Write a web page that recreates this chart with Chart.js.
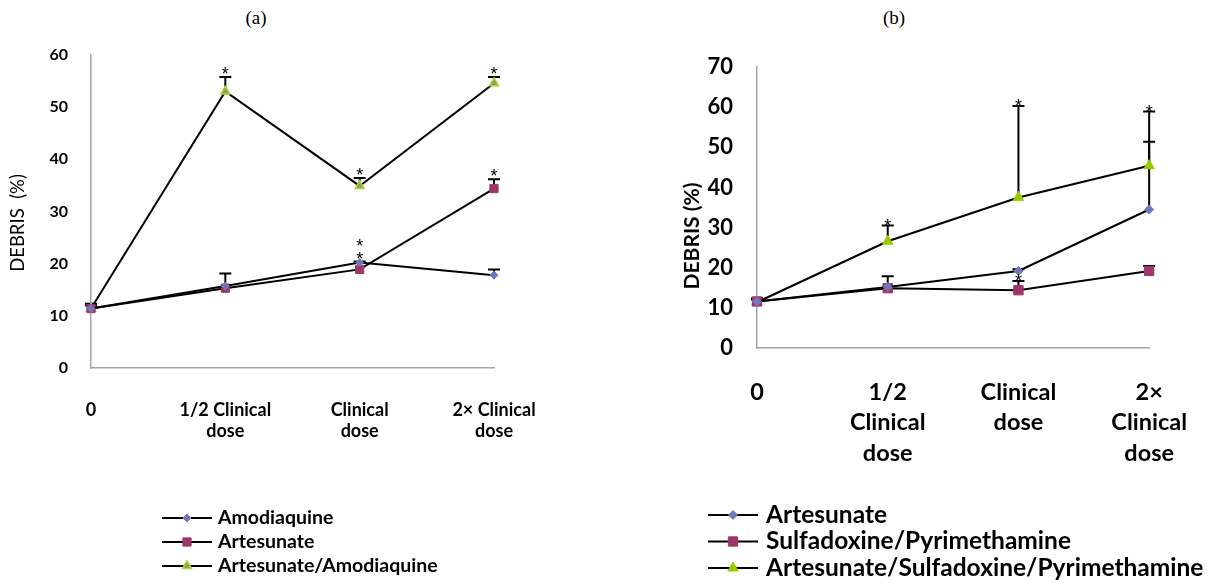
<!DOCTYPE html>
<html>
<head>
<meta charset="utf-8">
<script src="https://cdn.jsdelivr.net/npm/chart.js@4.4.1/dist/chart.umd.min.js"></script>
<style>
  body { margin: 0; background: #fff; width: 1216px; height: 583px; overflow: hidden; position: relative; }
  .panel { position: absolute; top: 0; height: 583px; }
  #wrapA { left: 0; width: 600px; }
  #wrapB { left: 600px; width: 616px; }
  .tag { position: absolute; top: 7px; font-family: 'Liberation Serif', serif; font-size: 19px; line-height: 22px; transform: translateX(-50%); }
</style>
</head>
<body>
<div class="tag" style="left:256px">(a)</div>
<div class="tag" style="left:894px">(b)</div>
<div class="panel" id="wrapA"><canvas id="chartA" width="600" height="583"></canvas></div>
<div class="panel" id="wrapB"><canvas id="chartB" width="616" height="583"></canvas></div>
<script>
// categories
const dosesA = [['0'], ['1/2 Clinical', 'dose'], ['Clinical', 'dose'], ['2× Clinical', 'dose']];
const dosesB = [['0'], ['1/2', 'Clinical', 'dose'], ['Clinical', 'dose'], ['2×', 'Clinical', 'dose']];

// (a) debris %
const amodiaquineA = [11.4, 15.7, 20.2, 17.8];
const artesunateA = [11.4, 15.3, 18.9, 34.4];
const artAmoA = [11.4, 53.0, 34.9, 54.6];
// upper error (SEM)
const amodiaquineErrA = [0.9, 2.4, 0.2, 1.1];
const artesunateErrA = [0.6, 0, 0, 1.8];
const artAmoErrA = [0, 2.8, 1.5, 1.2];
// significance marks
const amodiaquineStarA = [0, 0, 1, 0];
const artesunateStarA = [0, 0, 1, 1];
const artAmoStarA = [0, 1, 1, 1];

// (b) debris %
const artesunateB = [11.6, 15.2, 19.2, 34.5];
const sulfaPyrB = [11.6, 14.9, 14.4, 19.2];
const artSulfaPyrB = [11.4, 26.6, 37.5, 45.4];
const artesunateErrB = [0.8, 2.7, 0.4, 16.9];
const sulfaPyrErrB = [0.5, 0, 2.3, 1.2];
const artSulfaPyrErrB = [0, 3.9, 22.8, 13.5];
const artesunateStarB = [0, 0, 0, 0];
const sulfaPyrStarB = [0, 0, 1, 0];
const artSulfaPyrStarB = [0, 1, 1, 1];

const BLUE = '#7276b6', PLUM = '#9c3768', GREEN = '#99cc00';

function drawMarker(ctx, style, x, y, r, fill, stroke, bw) {
    ctx.beginPath();
    if (style === 'rect') {
        const s = r * Math.SQRT1_2;
        ctx.rect(x - s, y - s, 2 * s, 2 * s);
    } else if (style === 'rectRot') {
        ctx.moveTo(x, y - r); ctx.lineTo(x + r, y); ctx.lineTo(x, y + r); ctx.lineTo(x - r, y); ctx.closePath();
    } else {
        for (let k = 0; k < 3; k++) {
            const a = k * 2 * Math.PI / 3;
            const px = x + Math.sin(a) * r, py = y - Math.cos(a) * r;
            if (k === 0) ctx.moveTo(px, py); else ctx.lineTo(px, py);
        }
        ctx.closePath();
    }
    ctx.fillStyle = fill; ctx.fill();
    ctx.lineWidth = bw; ctx.strokeStyle = stroke; ctx.stroke();
}

// error bars (upper only) + asterisks
const errorBars = {
    id: 'errorBars',
    beforeDatasetsDraw(chart, args, opts) {
        const ctx = chart.ctx, ys = chart.scales.y;
        ctx.save();
        ctx.strokeStyle = '#000';
        ctx.lineWidth = 2;
        chart.data.datasets.forEach((ds, i) => {
            const meta = chart.getDatasetMeta(i);
            ds.errUp.forEach((e, j) => {
                if (!e) return;
                const p = meta.data[j];
                const top = ys.getPixelForValue(ds.data[j] + e);
                ctx.beginPath();
                ctx.moveTo(p.x, p.y); ctx.lineTo(p.x, top);
                ctx.moveTo(p.x - opts.cap, top); ctx.lineTo(p.x + opts.cap, top);
                ctx.stroke();
            });
        });
        ctx.restore();
    },
    afterDatasetsDraw(chart, args, opts) {
        const ctx = chart.ctx, ys = chart.scales.y;
        const used = {};
        ctx.save();
        ctx.fillStyle = '#000';
        ctx.font = opts.starFont;
        ctx.textAlign = 'center';
        ctx.textBaseline = 'alphabetic';
        chart.data.datasets.forEach((ds, i) => {
            const meta = chart.getDatasetMeta(i);
            ds.stars.forEach((s, j) => {
                if (!s) return;
                const p = meta.data[j];
                let y = ys.getPixelForValue(ds.data[j] + (ds.errUp[j] || 0)) - opts.gap;
                used[j] = used[j] || [];
                while (used[j].some(u => Math.abs(u - y) < opts.step)) y -= opts.step;
                used[j].push(y);
                ctx.fillText('*', p.x, y + opts.lift);
            });
        });
        ctx.restore();
    }
};

// legend with line + marker sample, and rotated axis title
const sideLegend = {
    id: 'sideLegend',
    afterDraw(chart, args, opts) {
        const ctx = chart.ctx;
        ctx.save();
        chart.data.datasets.forEach((ds, i) => {
            const y = opts.y + i * opts.rowGap;
            ctx.strokeStyle = '#000';
            ctx.lineWidth = 2;
            ctx.beginPath();
            ctx.moveTo(opts.x, y); ctx.lineTo(opts.x + opts.lineLen, y);
            ctx.stroke();
            drawMarker(ctx, ds.pointStyle, opts.x + opts.lineLen / 2, y, ds.pointRadius,
                ds.pointBackgroundColor, ds.pointBorderColor, ds.pointBorderWidth);
            ctx.fillStyle = '#000';
            ctx.font = opts.font;
            ctx.textAlign = 'left';
            ctx.textBaseline = 'middle';
            ctx.fillText(ds.label, opts.x + opts.textGap, y);
        });
        const t = opts.title;
        ctx.translate(t.x, t.y);
        ctx.rotate(-Math.PI / 2);
        ctx.font = t.font;
        ctx.textAlign = 'center';
        ctx.textBaseline = 'middle';
        ctx.fillStyle = '#000';
        ctx.fillText(t.text, 0, 0);
        ctx.restore();
    }
};

function series(label, data, err, stars, style, radius, fill, stroke, bw) {
    return {
        label: label, data: data, errUp: err, stars: stars,
        borderColor: '#000', borderWidth: 2, tension: 0, clip: false,
        pointStyle: style, pointRadius: radius, pointHoverRadius: radius,
        pointBackgroundColor: fill, pointBorderColor: stroke, pointBorderWidth: bw
    };
}

function makeChart(id, labels, datasets, o) {
    const tickFont = { family: 'Lato', size: o.tickSize, weight: 'bold', lineHeight: o.lineHeight };
    const xFont = { family: 'Lato', size: o.xSize, weight: 'bold', lineHeight: o.lineHeight };
    return new Chart(document.getElementById(id), {
        type: 'line',
        data: { labels: labels, datasets: datasets },
        plugins: [errorBars, sideLegend],
        options: {
            responsive: false,
            animation: false,
            events: [],
            layout: { padding: o.padding },
            plugins: {
                legend: { display: false },
                tooltip: { enabled: false },
                errorBars: o.err,
                sideLegend: o.legend
            },
            scales: {
                x: {
                    offset: false,
                    grid: { display: false, drawTicks: false },
                    border: { display: true, color: '#a6a6a6', width: 1.5 },
                    ticks: { color: '#000', font: xFont, padding: o.xPad, autoSkip: false, maxRotation: 0 },
                    afterFit(s) { s.height = o.xHeight; }
                },
                y: {
                    min: 0, max: o.yMax,
                    grid: { display: false, drawTicks: false },
                    border: { display: true, color: '#a6a6a6', width: 1.5 },
                    ticks: { stepSize: 10, color: '#000', font: tickFont, padding: o.yPad },
                    afterFit(s) { s.width = o.yWidth; }
                }
            }
        }
    });
}

makeChart('chartA', dosesA, [
    series('Amodiaquine', amodiaquineA, amodiaquineErrA, amodiaquineStarA, 'rectRot', 4, BLUE, BLUE, 1),
    series('Artesunate', artesunateA, artesunateErrA, artesunateStarA, 'rect', 5.8, PLUM, PLUM, 1),
    series('Artesunate/Amodiaquine', artAmoA, artAmoErrA, artAmoStarA, 'triangle', 5.2, '#8f9c66', '#a8d630', 1.5)
], {
    padding: { left: 0, right: 106, top: 55, bottom: 115 },
    yMax: 60, yWidth: 91, yPad: 23, xHeight: 100, xPad: 32,
    tickSize: 16, xSize: 18, lineHeight: 1.15,
    err: { cap: 6, gap: 7, step: 10, lift: 10, starFont: '18px "Liberation Sans"' },
    legend: {
        x: 162, y: 518, rowGap: 24, lineLen: 50, textGap: 56, font: 'bold 19.5px Lato',
        title: { text: 'DEBRIS  (%)', x: 18, y: 223, font: '18.5px Lato' }
    }
});

makeChart('chartB', dosesB, [
    series('Artesunate', artesunateB, artesunateErrB, artesunateStarB, 'rectRot', 4.5, BLUE, BLUE, 1),
    series('Sulfadoxine/Pyrimethamine', sulfaPyrB, sulfaPyrErrB, sulfaPyrStarB, 'rect', 6.6, PLUM, PLUM, 1),
    series('Artesunate/Sulfadoxine/Pyrimethamine', artSulfaPyrB, artSulfaPyrErrB, artSulfaPyrStarB, 'triangle', 6, GREEN, GREEN, 1)
], {
    padding: { left: 0, right: 47, top: 67, bottom: 105 },
    yMax: 70, yWidth: 157, yPad: 24, xHeight: 130, xPad: 29,
    tickSize: 22, xSize: 23.5, lineHeight: 1.3,
    err: { cap: 6, gap: 4, step: 10, lift: 10, starFont: '18px "Liberation Sans"' },
    legend: {
        x: 108, y: 515, rowGap: 26.5, lineLen: 50, textGap: 58, font: 'bold 24.5px Lato',
        title: { text: 'DEBRIS (%)', x: 92, y: 236, font: 'bold 21px Lato' }
    }
});
</script>
</body>
</html>
